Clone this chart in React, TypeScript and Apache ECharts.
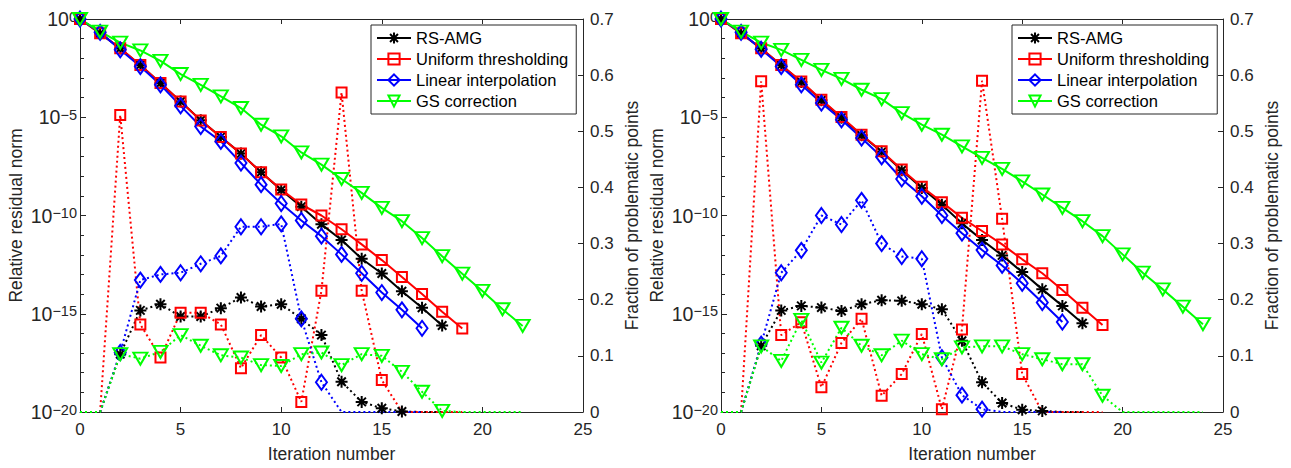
import React, { useEffect, useRef } from 'react';
import * as echarts from 'echarts';

// ---------- Data ----------
const legendNames = ['RS-AMG', 'Uniform thresholding', 'Linear interpolation', 'GS correction'];

// Left panel: relative residual norm (solid lines, left log axis)
const leftResRS = [1, 1.86e-1, 3.16e-2, 4.47e-3, 5.37e-4, 6.31e-5, 7.08e-6, 1e-6, 1.41e-7, 1.58e-8, 2.0e-9, 2.82e-10, 3.55e-11, 5.62e-12, 6.31e-13, 1.12e-13, 1.41e-14, 2.0e-15, 2.51e-16];
const leftResUT = [1, 1.86e-1, 3.24e-2, 4.57e-3, 5.5e-4, 6.31e-5, 6.92e-6, 1e-6, 1.41e-7, 1.58e-8, 2.09e-9, 3.63e-10, 1e-10, 2.0e-11, 3.39e-12, 5.37e-13, 7.41e-14, 1e-14, 1.26e-15, 1.78e-16];
const leftResLI = [1, 2.09e-1, 2.69e-2, 3.8e-3, 4.47e-4, 3.8e-5, 3.39e-6, 5.89e-7, 4.68e-8, 3.72e-9, 4.07e-10, 5.62e-11, 8.91e-12, 1.05e-12, 1.15e-13, 1.2e-14, 1.58e-15, 1.82e-16];
const leftResGS = [1, 2.29e-1, 6.31e-2, 2.51e-2, 7.41e-3, 1.58e-3, 4.47e-4, 1.15e-4, 2.95e-5, 4.17e-6, 1.07e-6, 1.62e-7, 3.89e-8, 7.24e-9, 1.41e-9, 2.45e-10, 5.13e-11, 7.08e-12, 8.51e-13, 1.1e-13, 1.45e-14, 1.7e-15, 2.4e-16];

// Left panel: fraction of problematic points (dotted lines, right axis)
const leftFracRS = [0, 0, 0.103, 0.181, 0.192, 0.17, 0.17, 0.185, 0.204, 0.188, 0.192, 0.166, 0.137, 0.054, 0.018, 0.0066, 0.001, 0, 0];
const leftFracUT = [0, 0, 0.529, 0.156, 0.097, 0.177, 0.177, 0.156, 0.078, 0.137, 0.097, 0.018, 0.216, 0.569, 0.216, 0.057, 0, 0, 0, 0];
const leftFracLI = [0, 0, 0.106, 0.235, 0.245, 0.248, 0.264, 0.278, 0.33, 0.33, 0.335, 0.166, 0.053, 0, 0, 0, 0, 0];
const leftFracGS = [0, 0, 0.103, 0.095, 0.107, 0.137, 0.118, 0.101, 0.097, 0.0835, 0.082, 0.103, 0.106, 0.0835, 0.103, 0.1, 0.0716, 0.036, 0.002, 0, 0, 0, 0];

// Right panel: relative residual norm
const rightResRS = [1, 1.86e-1, 3.16e-2, 4.47e-3, 6.31e-4, 7.41e-5, 9.55e-6, 1.2e-6, 1.74e-7, 2.0e-8, 2.51e-9, 3.55e-10, 3.98e-11, 5.62e-12, 9.33e-13, 1.32e-13, 1.74e-14, 2.51e-15, 3.31e-16];
const rightResUT = [1, 1.86e-1, 3.24e-2, 4.57e-3, 6.61e-4, 7.76e-5, 1.02e-5, 1.29e-6, 1.86e-7, 2.19e-8, 2.88e-9, 4.79e-10, 7.59e-11, 1.62e-11, 3.39e-12, 5.89e-13, 1.15e-13, 1.62e-14, 2.04e-15, 2.69e-16];
const rightResLI = [1, 2.09e-1, 2.88e-2, 3.8e-3, 4.47e-4, 5.25e-5, 7.41e-6, 8.71e-7, 9.55e-8, 7.24e-9, 9.55e-10, 1e-10, 1.26e-11, 1.74e-12, 2.88e-13, 3.55e-14, 3.72e-15, 3.8e-16];
const rightResGS = [1, 2.29e-1, 6.31e-2, 2.69e-2, 8.32e-3, 2.57e-3, 8.91e-4, 2.51e-4, 8.32e-5, 1.62e-5, 4.17e-6, 1.29e-6, 3.31e-7, 8.51e-8, 2.34e-8, 5.5e-9, 1.17e-9, 2.45e-10, 5.13e-11, 8.91e-12, 1.05e-12, 1.23e-13, 1.74e-14, 2.29e-15, 2.95e-16];

// Right panel: fraction of problematic points
const rightFracRS = [0, 0, 0.118, 0.181, 0.189, 0.186, 0.18, 0.192, 0.199, 0.198, 0.192, 0.183, 0.127, 0.053, 0.016, 0.004, 0.002, 0, 0];
const rightFracUT = [0, 0, 0.589, 0.137, 0.16, 0.044, 0.123, 0.166, 0.029, 0.0675, 0.139, 0.005, 0.147, 0.59, 0.344, 0.0675, 0, 0, 0, 0];
const rightFracLI = [0, 0, 0.121, 0.248, 0.288, 0.35, 0.334, 0.377, 0.3, 0.277, 0.273, 0.097, 0.03, 0.005, 0, 0, 0, 0];
const rightFracGS = [0, 0, 0.117, 0.091, 0.164, 0.088, 0.15, 0.118, 0.101, 0.127, 0.103, 0.094, 0.115, 0.117, 0.117, 0.103, 0.094, 0.085, 0.085, 0.029, 0, 0, 0, 0, 0];

// ---------- Styling ----------
const FONT = '"Liberation Sans", Arial, Helvetica, sans-serif';
const AX = '#262626';
const ASTERISK = 'path://M0,6L12,6M6,0L6,12M1.76,1.76L10.24,10.24M10.24,1.76L1.76,10.24';

type Sty = { color: string; symbol: string; size: number | number[]; rotate: number };
const STY: Sty[] = [
  { color: '#000000', symbol: ASTERISK, size: 12, rotate: 0 },
  { color: '#ff0000', symbol: 'rect', size: 10, rotate: 0 },
  { color: '#0000ff', symbol: 'diamond', size: [11, 15], rotate: 0 },
  { color: '#00ff00', symbol: 'triangle', size: [14, 12], rotate: 180 },
];

const pairs = (arr: number[]) => arr.map((v, i) => [i, v]);

function mkSeries(name: string, idx: number, values: number[], xIdx: number, yIdx: number, dotted: boolean) {
  const s = STY[idx];
  return {
    type: 'line',
    name,
    xAxisIndex: xIdx,
    yAxisIndex: yIdx,
    data: pairs(values),
    symbol: s.symbol,
    symbolSize: dotted ? (val: number[]) => (val[1] > 0 ? s.size : 0) : s.size,
    symbolRotate: s.rotate,
    showAllSymbol: true,
    lineStyle: { color: s.color, width: 2, type: dotted ? [2, 3] : 'solid' },
    itemStyle: { color: 'rgba(0,0,0,0)', borderColor: s.color, borderWidth: 2 },
    emphasis: { disabled: true },
    z: dotted ? 2 : 3,
  };
}

function xAxes(gridIndex: number) {
  const base = {
    gridIndex,
    type: 'value',
    min: 0,
    max: 25,
    interval: 5,
    splitLine: { show: false },
    axisLine: { show: true, onZero: false, lineStyle: { color: AX, width: 1 } },
    axisTick: { show: true, inside: true, length: 5, lineStyle: { color: AX } },
  };
  return [
    {
      ...base,
      position: 'bottom',
      name: 'Iteration number',
      nameLocation: 'middle',
      nameGap: 33,
      nameTextStyle: { fontFamily: FONT, fontSize: 17.5, color: AX },
      axisLabel: { show: true, margin: 9, fontFamily: FONT, fontSize: 17, color: AX },
    },
    { ...base, position: 'top', axisLabel: { show: false } },
  ];
}

function yAxes(gridIndex: number, leftGap: number, rightGap: number) {
  return [
    { gridIndex, type: 'log', logBase: 10, min: 1e-20, max: 1, show: false },
    {
      gridIndex,
      type: 'value',
      position: 'left',
      min: -20,
      max: 0,
      interval: 5,
      name: 'Relative residual norm',
      nameLocation: 'middle',
      nameGap: leftGap,
      nameTextStyle: { fontFamily: FONT, fontSize: 17.5, color: AX },
      splitLine: { show: false },
      axisLine: { show: true, onZero: false, lineStyle: { color: AX, width: 1 } },
      axisTick: { show: true, inside: true, length: 6, lineStyle: { color: AX } },
      minorTick: { show: true, splitNumber: 5, length: 4, lineStyle: { color: AX } },
      axisLabel: {
        margin: 3,
        fontFamily: FONT,
        fontSize: 19.5,
        color: AX,
        formatter: (v: number) => {
          const e = Math.round(v);
          return `{man|10}{exp|${e < 0 ? '\u2212' + -e : e}}`;
        },
        rich: {
          man: { fontFamily: FONT, fontSize: 19.5, color: AX, padding: [6, 0, 0, 0], verticalAlign: 'bottom', lineHeight: 20 },
          exp: { fontFamily: FONT, fontSize: 14.5, color: AX, verticalAlign: 'top', lineHeight: 15 },
        },
      },
    },
    {
      gridIndex,
      type: 'value',
      position: 'right',
      min: 0,
      max: 0.7,
      interval: 0.1,
      name: 'Fraction of problematic points',
      nameLocation: 'middle',
      nameGap: rightGap,
      nameTextStyle: { fontFamily: FONT, fontSize: 17.5, color: AX },
      splitLine: { show: false },
      axisLine: { show: true, onZero: false, lineStyle: { color: AX, width: 1 } },
      axisTick: { show: true, inside: true, length: 5, lineStyle: { color: AX } },
      axisLabel: {
        margin: 7,
        fontFamily: FONT,
        fontSize: 17,
        color: AX,
        formatter: (v: number) => (v === 0 ? '0' : v.toFixed(1)),
      },
    },
  ];
}

function legendAt(left: number) {
  return {
    left,
    top: 25,
    orient: 'vertical',
    data: legendNames,
    selectedMode: false,
    itemWidth: 34,
    itemHeight: 14,
    itemGap: 3,
    padding: [4, 8, 4, 5],
    backgroundColor: '#ffffff',
    borderColor: AX,
    borderWidth: 1,
    borderRadius: 0,
    textStyle: { fontFamily: FONT, fontSize: 16.5, color: '#000000', lineHeight: 18 },
  };
}

export default function App() {
  const ref = useRef<HTMLDivElement>(null);
  useEffect(() => {
    if (!ref.current) return;
    const chart = echarts.init(ref.current, null, { renderer: 'svg' });
    const leftRes = [leftResRS, leftResUT, leftResLI, leftResGS];
    const leftFrac = [leftFracRS, leftFracUT, leftFracLI, leftFracGS];
    const rightRes = [rightResRS, rightResUT, rightResLI, rightResGS];
    const rightFrac = [rightFracRS, rightFracUT, rightFracLI, rightFracGS];
    const series: any[] = [];
    legendNames.forEach((n, i) => series.push(mkSeries(n + ' (fraction, left)', i, leftFrac[i], 0, 2, true)));
    legendNames.forEach((n, i) => series.push(mkSeries(n + ' (fraction, right)', i, rightFrac[i], 2, 5, true)));
    legendNames.forEach((n, i) => series.push(mkSeries(n, i, leftRes[i], 0, 0, false)));
    legendNames.forEach((n, i) => series.push(mkSeries(n, i, rightRes[i], 2, 3, false)));

    chart.setOption({
      animation: false,
      backgroundColor: '#ffffff',
      textStyle: { fontFamily: FONT },
      grid: [
        { left: 80, top: 19, width: 503, height: 394, containLabel: false },
        { left: 721, top: 19, width: 502, height: 394, containLabel: false },
      ],
      xAxis: [...xAxes(0), ...xAxes(1)],
      yAxis: [...yAxes(0, 55, 40), ...yAxes(1, 55, 40)],
      legend: [legendAt(371), legendAt(1012)],
      series,
    });
    return () => chart.dispose();
  }, []);
  return (
    <div
      ref={ref}
      style={{ position: 'fixed', left: 0, top: 0, width: 1291, height: 468, background: '#fff' }}
    />
  );
}
